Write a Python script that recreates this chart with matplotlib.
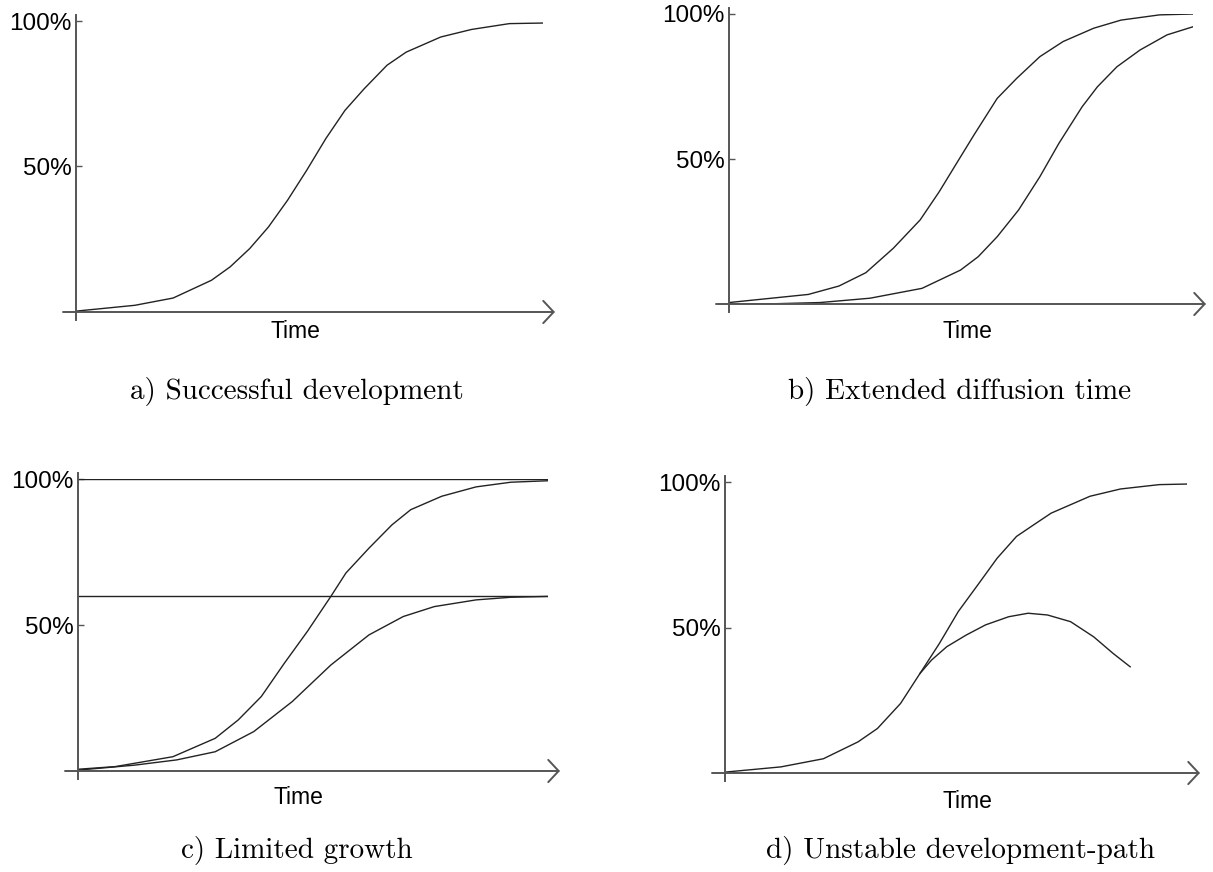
import matplotlib
matplotlib.use("Agg")
import matplotlib.pyplot as plt

W, H = 1213, 872

# a) Successful development
a_t = [0, 0.126, 0.208, 0.29, 0.33, 0.372, 0.412, 0.453, 0.494, 0.535, 0.576,
       0.617, 0.666, 0.707, 0.781, 0.847, 0.928, 1.0]
a_pct = [0.3, 2.3, 4.8, 10.9, 15.5, 21.8, 29.2, 38.4, 48.7, 59.6, 69.3,
         76.7, 84.8, 89.3, 94.5, 97.1, 99.1, 99.3]

# b) Extended diffusion time
b_fast_t = [0, 0.171, 0.237, 0.295, 0.354, 0.412, 0.453, 0.495, 0.528, 0.578,
            0.62, 0.67, 0.72, 0.786, 0.845, 0.928, 1.0]
b_fast_pct = [0.5, 3.3, 6.2, 10.8, 19.2, 29.0, 38.7, 49.7, 58.3, 70.9,
              77.8, 85.3, 90.5, 95.1, 97.9, 99.7, 100]
b_slow_t = [0, 0.1, 0.196, 0.304, 0.416, 0.499, 0.537, 0.578, 0.624, 0.67,
            0.711, 0.761, 0.794, 0.836, 0.886, 0.944, 1.0]
b_slow_pct = [0, 0.1, 0.5, 2.0, 5.4, 11.7, 16.3, 23.2, 32.4, 43.9,
              55.4, 68.0, 74.9, 81.8, 87.6, 92.8, 95.6]

# c) Limited growth
c_full_t = [0, 0.079, 0.202, 0.292, 0.341, 0.39, 0.439, 0.488, 0.538, 0.57,
            0.619, 0.668, 0.708, 0.774, 0.847, 0.921, 1.0]
c_full_pct = [0.6, 1.5, 4.9, 11.2, 17.5, 25.5, 36.9, 47.8, 59.8, 67.8,
              76.3, 84.3, 89.5, 94.1, 97.3, 98.9, 99.4]
c_lim_t = [0, 0.12, 0.21, 0.292, 0.374, 0.456, 0.538, 0.619, 0.692, 0.758,
           0.847, 0.921, 1.0]
c_lim_pct = [0.3, 2.0, 3.8, 6.6, 13.5, 23.8, 36.3, 46.6, 52.9, 56.3,
             58.6, 59.5, 59.8]
c_levels = [100, 60]

# d) Unstable development-path
d_main_t = [0, 0.121, 0.213, 0.288, 0.33, 0.38, 0.422, 0.464, 0.505, 0.547,
            0.589, 0.631, 0.673, 0.706, 0.79, 0.856, 0.94, 1.0]
d_main_pct = [0.3, 2.1, 4.9, 10.7, 15.3, 23.9, 34.2, 44.5, 55.5, 64.6,
              73.8, 81.3, 85.8, 89.3, 95.1, 97.6, 99.1, 99.3]
d_unst_t = [0.422, 0.447, 0.48, 0.522, 0.564, 0.614, 0.656, 0.698, 0.748,
            0.798, 0.84, 0.877]
d_unst_pct = [34.2, 38.8, 43.4, 47.4, 50.9, 53.7, 54.9, 54.3, 52.0,
              46.8, 41.1, 36.5]

captions = ["a) Successful development", "b) Extended diffusion time",
            "c) Limited growth", "d) Unstable development-path"]

# pixel boxes: y-axis x, curve end x, 100% y, baseline y, arrow tip x
boxes = [(76, 543, 21, 312, 555),
         (729, 1193, 14, 304, 1206),
         (78, 548, 479, 771, 560),
         (725, 1187, 482, 773, 1200)]
time_pos = [(295, 331), (967, 331), (298, 797), (967, 801)]
cap_pos = [(297, 392), (960, 392), (297, 850), (960, 850)]

AX = "#555555"
LN = "#222222"
SANS = "Liberation Sans"

fig = plt.figure(figsize=(W / 100, H / 100), dpi=100)


def make_axes(box):
    x0, x1, ytop, ybase, tip = box
    ax = fig.add_axes([x0 / W, 1 - ybase / H, (x1 - x0) / W, (ybase - ytop) / H])
    ax.set_xlim(0, 1)
    ax.set_ylim(0, 100)
    for s in ["top", "right", "bottom"]:
        ax.spines[s].set_visible(False)
    px_y = 100 / (ybase - ytop)
    px_x = 1 / (x1 - x0)
    ax.spines["left"].set_bounds(-8 * px_y, 100 + 6 * px_y)
    ax.spines["left"].set_color(AX)
    ax.spines["left"].set_linewidth(1.4)
    ax.set_xticks([])
    ax.set_yticks([50, 100], ["50%", "100%"])
    ax.tick_params(axis="y", direction="in", length=4.5, width=1.0,
                   color=AX, labelsize=17.5, pad=3)
    for lab in ax.get_yticklabels():
        lab.set_fontfamily(SANS)
    # x axis with open arrow head
    ax.annotate("", xy=((tip - x0) * px_x, 0), xytext=(-13 * px_x, 0),
                xycoords="data", annotation_clip=False,
                arrowprops=dict(arrowstyle="->,head_length=0.75,head_width=0.8",
                                color=AX, lw=1.4, shrinkA=0, shrinkB=0,
                                mutation_scale=10))
    return ax


axes = [make_axes(b) for b in boxes]

axes[0].plot(a_t, a_pct, color=LN, lw=1.0)

axes[1].plot(b_fast_t, b_fast_pct, color=LN, lw=1.0)
axes[1].plot(b_slow_t, b_slow_pct, color=LN, lw=1.0)

for lvl in c_levels:
    axes[2].axhline(lvl, color=LN, lw=1.0)
axes[2].plot(c_full_t, c_full_pct, color=LN, lw=1.0)
axes[2].plot(c_lim_t, c_lim_pct, color=LN, lw=1.0)

axes[3].plot(d_main_t, d_main_pct, color=LN, lw=1.0)
axes[3].plot(d_unst_t, d_unst_pct, color=LN, lw=1.0)

for (tx, ty), (cx, cy), cap in zip(time_pos, cap_pos, captions):
    fig.text(tx / W, 1 - ty / H, "Time", ha="center", va="center",
             fontsize=16.5, family=SANS)
    fig.text(cx / W, 1 - cy / H, cap, ha="center", va="center",
             fontsize=21, family="cmr10")

fig.savefig("out.png", dpi=100)
